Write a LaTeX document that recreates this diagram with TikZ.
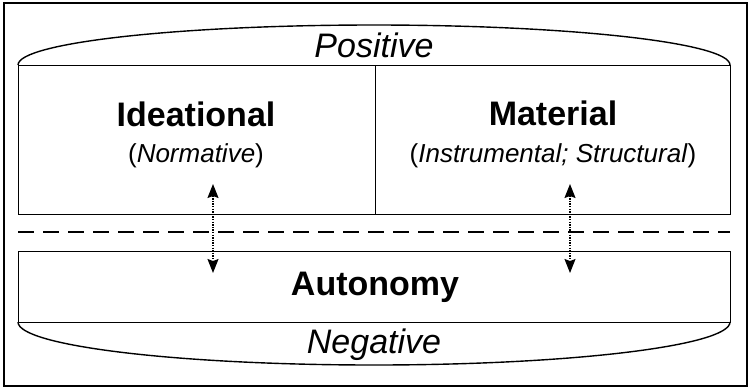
\documentclass[tikz,border=0pt]{standalone}
\usepackage{fontspec}
\setmainfont{Liberation Sans}
\usetikzlibrary{arrows.meta}
\begin{document}
\begin{tikzpicture}[x=1pt,y=-1pt,
  shape line/.style={line width=1.4pt,black},
  big bold/.style={font=\fontsize{34}{40}\selectfont\bfseries,anchor=base,inner sep=0pt},
  big ital/.style={font=\fontsize{34}{40}\selectfont\itshape,anchor=base,inner sep=0pt},
  small paren/.style={font=\fontsize{26}{30}\selectfont,anchor=base,inner sep=0pt},
  link/.style={line width=1.2pt,dash pattern=on 1.3pt off 1.3pt,{Stealth[length=14pt,width=11pt,inset=2pt]}-{Stealth[length=14pt,width=11pt,inset=2pt]}}]
\useasboundingbox (0,0) rectangle (751,389);
\draw[line width=1.5pt] (4,3) rectangle (747,386);
% top cap
\draw[shape line] (18,65) arc[start angle=180,end angle=360,x radius=356,y radius=40];
\node[shape line,draw,minimum width=357pt,minimum height=149pt,anchor=north west,inner sep=0pt] (ideal) at (18,65) {};
\node[shape line,draw,minimum width=355pt,minimum height=149pt,anchor=north west,inner sep=0pt] (mat) at (375,65) {};
\draw[line width=1.6pt,dash pattern=on 16pt off 9pt] (18,232) -- (730,232);
\node[shape line,draw,minimum width=712pt,minimum height=71pt,anchor=north west,inner sep=0pt] (auto) at (18,251) {};
\draw[shape line] (18,322) arc[start angle=180,end angle=0,x radius=356,y radius=43];
% texts
\node[big ital] (pos) at (374,57) {Positive};
\node[big bold] (idt) at (196,126) {Ideational};
\node[small paren] (nor) at (196,162) {(\textit{Normative})};
\node[big bold] (mtl) at (553,125) {Material};
\node[small paren] (ins) at (553,162) {(\textit{Instrumental; Structural})};
\node[big bold] (aut) at (375,295) {Autonomy};
\node[big ital] (neg) at (374,353) {Negative};
% arrows
\coordinate (a1t) at (213,184);
\coordinate (a1b) at (213,273);
\coordinate (a2t) at (570,184);
\coordinate (a2b) at (570,273);
\draw[link] (a1t) -- (a1b);
\draw[link] (a2t) -- (a2b);
\end{tikzpicture}
\end{document}
